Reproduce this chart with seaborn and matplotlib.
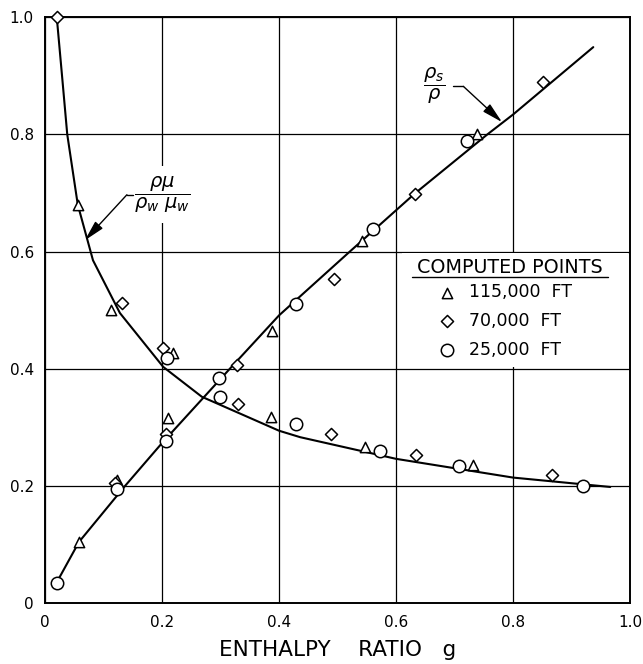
import matplotlib
matplotlib.use("Agg")
import matplotlib.pyplot as plt
import seaborn as sns
import pandas as pd
import numpy as np

# ---------------- data ----------------
tri_x = [0.056, 0.058, 0.113, 0.123, 0.218, 0.210, 0.388, 0.386, 0.542, 0.547, 0.732, 0.739]
tri_y = [0.679, 0.104, 0.500, 0.210, 0.426, 0.315, 0.464, 0.318, 0.618, 0.267, 0.236, 0.800]

dia_x = [0.020, 0.132, 0.120, 0.202, 0.207, 0.328, 0.330, 0.494, 0.489, 0.632, 0.634, 0.851, 0.867]
dia_y = [1.000, 0.512, 0.205, 0.435, 0.288, 0.407, 0.340, 0.553, 0.289, 0.699, 0.252, 0.890, 0.219]

cir_x = [0.020, 0.123, 0.207, 0.208, 0.297, 0.299, 0.429, 0.429, 0.561, 0.573, 0.721, 0.708, 0.920]
cir_y = [0.034, 0.194, 0.276, 0.418, 0.384, 0.351, 0.511, 0.305, 0.639, 0.260, 0.788, 0.234, 0.200]

# density ratio curve rho_s / rho
rise_x = [0.020, 0.058, 0.137, 0.200, 0.316, 0.400, 0.521, 0.632, 0.756, 0.800, 0.937]
rise_y = [0.035, 0.104, 0.200, 0.273, 0.400, 0.491, 0.600, 0.699, 0.800, 0.834, 0.949]

# rho*mu / (rho_w*mu_w) curve
fall_x = [0.021, 0.030, 0.038, 0.056, 0.082, 0.128, 0.202, 0.268, 0.400, 0.436, 0.600, 0.800, 0.966]
fall_y = [0.990, 0.890, 0.800, 0.680, 0.585, 0.495, 0.403, 0.352, 0.294, 0.283, 0.246, 0.214, 0.198]

x_ticks = [0, 0.2, 0.4, 0.6, 0.8, 1.0]
x_ticklabels = ["0", "0.2", "0.4", "0.6", "0.8", "1.0"]
y_ticks = [0, 0.2, 0.4, 0.6, 0.8, 1.0]
y_ticklabels = ["0", "0.2", "0.4", "0.6", "0.8", "1.0"]

series_labels = ["115,000  FT", "70,000  FT", "25,000  FT"]

# ---------------- figure ----------------
sns.set_style("white")
plt.rcParams["font.family"] = ["DejaVu Sans"]
plt.rcParams["mathtext.fontset"] = "dejavusans"
for k in ["text.color", "axes.labelcolor", "xtick.color", "ytick.color", "axes.edgecolor"]:
    plt.rcParams[k] = "black"

fig = plt.figure(figsize=(6.43, 6.64), dpi=100)
ax = fig.add_axes([0.070, 0.092, 0.910, 0.882])

rise = pd.DataFrame({"g": rise_x, "v": rise_y})
fall = pd.DataFrame({"g": fall_x, "v": fall_y})
sns.lineplot(data=rise, x="g", y="v", ax=ax, color="black", lw=1.5,
             sort=False, estimator=None, zorder=3)
sns.lineplot(data=fall, x="g", y="v", ax=ax, color="black", lw=1.5,
             sort=False, estimator=None, zorder=3)

common = dict(facecolor="white", edgecolor="black", linewidth=1.1, zorder=4, ax=ax,
              clip_on=False)
sns.scatterplot(x=tri_x, y=tri_y, marker="^", s=55, label=series_labels[0], **common)
sns.scatterplot(x=dia_x, y=dia_y, marker="D", s=38, label=series_labels[1], **common)
sns.scatterplot(x=cir_x, y=cir_y, marker="o", s=80, label=series_labels[2], **common)

ax.set_xlim(0, 1.0)
ax.set_ylim(0, 1.0)
ax.set_xticks(x_ticks)
ax.set_xticklabels(x_ticklabels)
ax.set_yticks(y_ticks)
ax.set_yticklabels(y_ticklabels)
ax.tick_params(length=0, labelsize=11, colors="black")
ax.tick_params(axis="x", pad=9)
ax.tick_params(axis="y", pad=8)
ax.set_xlabel("ENTHALPY    RATIO   g", fontsize=15.5, labelpad=7, color="black")
ax.set_ylabel("")

ax.grid(True, color="black", lw=0.9)
ax.set_axisbelow(True)
for sp in ax.spines.values():
    sp.set_color("black")
    sp.set_linewidth(1.4)

# white box hiding grid behind legend
ax.add_patch(plt.Rectangle((0.61, 0.403), 0.386, 0.194, facecolor="white",
                           edgecolor="none", zorder=1))

# legend title + underline
ax.text(0.795, 0.572, "COMPUTED POINTS", fontsize=13.8, ha="center", va="center",
        zorder=5, color="black")
ax.plot([0.627, 0.962], [0.556, 0.556], color="black", lw=1.0, zorder=5)

leg = ax.legend(loc="upper left", bbox_to_anchor=(0.672, 0.546),
                bbox_transform=ax.transData, frameon=False, fontsize=12.5,
                handlelength=1.0, handletextpad=0.8, labelspacing=0.62,
                borderpad=0, borderaxespad=0, labelcolor="black")

# curve labels
ax.text(0.2, 0.697, r"$\dfrac{\rho\mu}{\rho_w\ \mu_w}$", fontsize=14, ha="center",
        va="center", zorder=5, color="black",
        bbox=dict(facecolor="white", edgecolor="none", pad=6))
ax.plot([0.140, 0.151], [0.697, 0.697], color="black", lw=1.0, zorder=5)
ax.annotate("", xy=(0.068, 0.619), xytext=(0.140, 0.697),
            arrowprops=dict(arrowstyle="-|>,head_length=0.9,head_width=0.22",
                            color="black", lw=1.0, shrinkA=0, shrinkB=0,
                            mutation_scale=14), zorder=5)

ax.text(0.665, 0.883, r"$\dfrac{\rho_s}{\rho}$", fontsize=14, ha="center",
        va="center", zorder=5, color="black")
ax.plot([0.697, 0.715], [0.882, 0.882], color="black", lw=1.0, zorder=5)
ax.annotate("", xy=(0.781, 0.821), xytext=(0.715, 0.882),
            arrowprops=dict(arrowstyle="-|>,head_length=0.9,head_width=0.22",
                            color="black", lw=1.0, shrinkA=0, shrinkB=0,
                            mutation_scale=14), zorder=5)

fig.savefig("out.png", dpi=100)
